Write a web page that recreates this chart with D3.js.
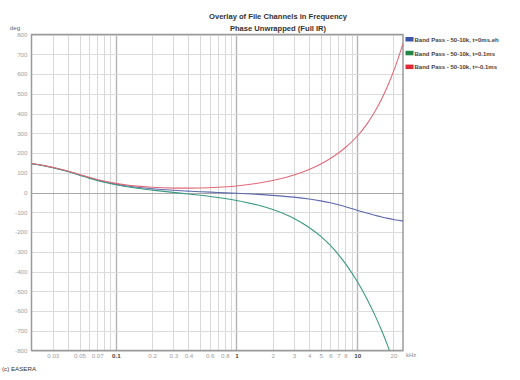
<!DOCTYPE html>
<html><head><meta charset="utf-8">
<script src="https://cdn.jsdelivr.net/npm/d3@7"></script>
<style>
html,body{margin:0;padding:0;background:#fff;}
svg{display:block;font-family:"Liberation Sans",Arial,sans-serif;}
</style></head>
<body>
<svg id="c" width="520" height="380"></svg>
<script>
// ---- data ----
const freqs = [0.02,0.025,0.03,0.04,0.05,0.06,0.07,0.08,0.1,0.12,0.15,0.2,0.3,0.4,0.5,0.7,1,1.5,2,3,4,5,6,7,8,10,12,14,16,18,20,22,24];
const blueVals = [145.9,136.5,126.8,107.4,89.6,75.0,63.5,54.8,42.5,34.5,26.7,19.1,11.2,7.0,4.1,0.1,-4.1,-9.5,-14.4,-23.6,-33.0,-42.5,-52.3,-62.1,-71.8,-89.6,-104.2,-115.6,-124.3,-131.1,-136.5,-140.8,-144.3];
const greenVals = [145.2,135.6,125.7,106.0,87.8,72.8,61.0,51.9,38.9,30.2,21.3,11.9,0.4,-7.4,-13.9,-25.1,-40.1,-63.5,-86.4,-131.6,-177,-222.5,-268.3,-314.1,-359.8,-449.6,-536.2,-619.6,-700.3,-779.1,-856.5,-932,-1008];
const redVals = [146.6,137.4,127.9,108.9,91.5,77.2,66.1,57.8,46.2,39.0,32.3,26.6,22.4,22.0,22.8,26.3,33.3,46.7,60.5,88.7,116.8,144.7,172.3,200.0,227.7,284.8,345.1,408.6,474.7,542.8,612.3,682.9,754.3];
const seriesNames = ["Band Pass - 50-10k, t=0ms.eh","Band Pass - 50-10k, t=0.1ms","Band Pass - 50-10k, t=-0.1ms"];
const xTickLabels = [0.03,0.05,0.07,0.1,0.2,0.3,0.4,0.6,0.8,1,2,3,4,5,6,7,8,10,20];
const xGridVals = [0.03,0.04,0.05,0.06,0.07,0.08,0.09,0.1,0.2,0.3,0.4,0.5,0.6,0.7,0.8,0.9,1,2,3,4,5,6,7,8,9,10,20];
const yTicks = [800,700,600,500,400,300,200,100,0,-100,-200,-300,-400,-500,-600,-700,-800];
const titleLines = ["Overlay of File Channels in Frequency","Phase Unwrapped (Full IR)"];

const lineColors = ["#5d68ae","#3a9a80","#e06a78"];
const swatchColors = ["#3b55a8","#22884a","#dd2a36"];

const svg = d3.select("#c");
const L = 31.5, R = 403, T = 34.5, B = 350.5;
const x = d3.scaleLog().domain([0.02, 24]).range([L, R]);
const y = d3.scaleLinear().domain([-800, 800]).range([B, T]);
const isMajor = d => (d === 0.1 || d === 1 || d === 10);

// grid
const gx = svg.append("g");
gx.selectAll("line").data(xGridVals).join("line")
  .attr("x1", d => Math.round(x(d)) + 0.5).attr("x2", d => Math.round(x(d)) + 0.5)
  .attr("y1", T).attr("y2", B)
  .attr("stroke", d => isMajor(d) ? "#b4b4b4" : "#d8d8d8")
  .attr("stroke-width", d => isMajor(d) ? 1.4 : 1);
const gy = svg.append("g");
gy.selectAll("line").data(yTicks).join("line")
  .attr("x1", L).attr("x2", R)
  .attr("y1", d => Math.round(y(d)) + 0.5).attr("y2", d => Math.round(y(d)) + 0.5)
  .attr("stroke", d => d === 0 ? "#a8a8a8" : "#dcdcdc")
  .attr("stroke-width", d => d === 0 ? 1.2 : 1);

// frame
svg.append("rect").attr("x", L).attr("y", T).attr("width", R - L).attr("height", B - T)
  .attr("fill", "none").attr("stroke", "#9a9a9a").attr("stroke-width", 1.5);

// y axis labels
const yAxis = d3.axisLeft(y).tickValues(yTicks).tickSize(0).tickPadding(4).tickFormat(d => String(d));
const ya = svg.append("g").attr("transform", `translate(${L},0)`).call(yAxis);
ya.select(".domain").remove();
ya.selectAll("text").attr("fill", "#a0a0a0").attr("font-size", 6.2).attr("font-family", "Liberation Sans, Arial, sans-serif");

// x axis labels
const xAxis = d3.axisBottom(x).tickValues(xTickLabels).tickSize(0).tickPadding(3).tickFormat(d => String(d));
const xa = svg.append("g").attr("transform", `translate(0,${B})`).call(xAxis);
xa.select(".domain").remove();
xa.selectAll("text")
  .attr("fill", d => isMajor(d) ? "#444" : "#a0a0a0")
  .attr("font-weight", d => isMajor(d) ? "bold" : "normal")
  .attr("font-size", 6.2).attr("font-family", "Liberation Sans, Arial, sans-serif");

svg.append("text").attr("x", 406).attr("y", 356.5).attr("font-size", 6).attr("fill", "#888").text("kHz");
svg.append("text").attr("x", 15).attr("y", 30).attr("text-anchor", "middle").attr("font-size", 6.2).attr("fill", "#666").text("deg");
svg.append("text").attr("x", 2).attr("y", 370.5).attr("font-size", 6.2).attr("fill", "#333").text("(c) EASERA");

// title
svg.selectAll("text.title").data(titleLines).join("text").attr("class", "title")
  .attr("x", 278).attr("y", (d, i) => 19 + i * 12.3)
  .attr("text-anchor", "middle").attr("font-weight", "bold").attr("font-size", 7.6).attr("fill", "#333")
  .text(d => d);

// curves
svg.append("clipPath").attr("id", "clip").append("rect").attr("x", L).attr("y", T).attr("width", R - L).attr("height", B - T);
const line = d3.line().x(d => x(d[0])).y(d => y(d[1])).curve(d3.curveMonotoneX);
const series = [blueVals, greenVals, redVals];
const gl = svg.append("g").attr("clip-path", "url(#clip)");
series.forEach((vals, i) => {
  gl.append("path").datum(freqs.map((f, j) => [f, vals[j]]))
    .attr("d", line).attr("fill", "none").attr("stroke", lineColors[i]).attr("stroke-width", 1.1);
});

// legend
const lg = svg.append("g");
seriesNames.forEach((n, i) => {
  const yy = 39.5 + i * 13.8;
  lg.append("rect").attr("x", 405.5).attr("y", yy - 2.5).attr("width", 8).attr("height", 4.5).attr("fill", swatchColors[i]);
  lg.append("text").attr("x", 414.5).attr("y", yy + 2.2).attr("font-size", 6).attr("font-weight", "bold").attr("fill", "#444").text(n);
});
</script>
</body></html>
